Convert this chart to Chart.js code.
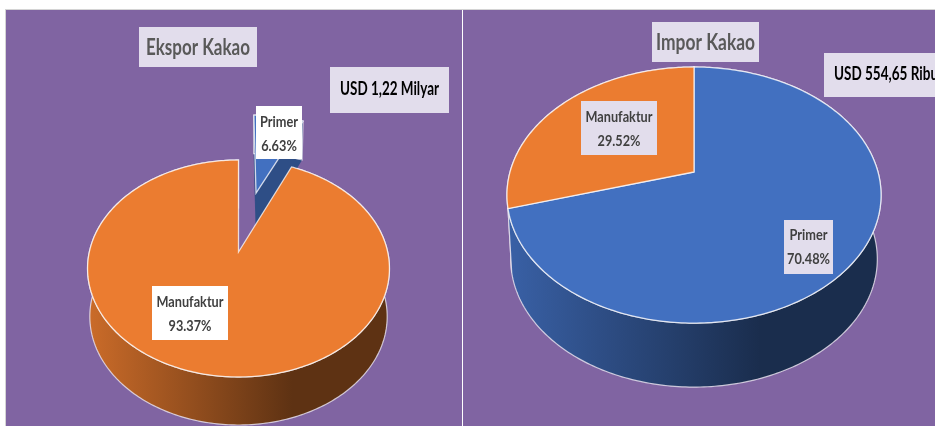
<!DOCTYPE html>
<html>
<head>
<meta charset="utf-8">
<script src="https://cdn.jsdelivr.net/npm/chart.js@4"></script>
<style>
  html, body { margin: 0; padding: 0; background: #fff; overflow: hidden; }
  canvas { position: absolute; background: #8064A2; }
  #ekspor { left: 6px; top: 10px; }
  #impor { left: 463px; top: 10px; }
  .line { position: absolute; background: #d4d4d4; }
</style>
</head>
<body>
<div class="line" style="left:5px;top:9px;width:930px;height:1px"></div>
<div class="line" style="left:5px;top:9px;width:1px;height:417px"></div>
<canvas id="ekspor" width="456" height="416"></canvas>
<canvas id="impor" width="472" height="416"></canvas>
<script>
// data (percent share)
const categories = ['Primer', 'Manufaktur'];
const eksporValues = [6.63, 93.37];
const imporValues = [70.48, 29.52];
const sliceColors = ['#4270C0', '#EB7C30'];

const eksporTitle = 'Ekspor Kakao';
const eksporTotal = 'USD 1,22 Milyar';
const imporTitle = 'Impor Kakao';
const imporTotal = 'USD 554,65 Ribu';

const FONT = 'Lato, "Open Sans", sans-serif';

function shade(hex, f) {
    const n = parseInt(hex.slice(1), 16);
    const r = Math.round((n >> 16 & 255) * f);
    const g = Math.round((n >> 8 & 255) * f);
    const b = Math.round((n & 255) * f);
    return `rgb(${r},${g},${b})`;
}

// tilted pie: the library works out the angles, this projects them in perspective
const tiltedPie = {
    id: 'tiltedPie',
    beforeDatasetsDraw(chart, args, opts) {
        const ctx = chart.ctx;
        const arcs = chart.getDatasetMeta(0).data;
        const point = (arc, i, theta, r) => {
            const ex = opts.explode[i];
            const mid = (arc.startAngle + arc.endAngle) / 2 + Math.PI / 2;
            const u = ex * Math.sin(mid) + r * Math.sin(theta);
            const v = -ex * Math.cos(mid) - r * Math.cos(theta);
            const w = 1 - opts.persp * v;
            const X = opts.rx * u / w, Y = opts.ry * v / w;
            const d = ex ? opts.depth / w : opts.depth;
            return {
                top: [opts.cx + X, opts.cy + Y],
                low: [opts.cx + X * opts.shrink, opts.cy + Y + d]
            };
        };
        const outline = (arc, i) => {
            const a0 = arc.startAngle + Math.PI / 2, a1 = arc.endAngle + Math.PI / 2;
            const n = Math.max(8, Math.ceil((a1 - a0) * 60));
            const pts = [];
            for (let k = 0; k <= n; k++) pts.push(point(arc, i, a0 + (a1 - a0) * k / n, 1));
            return { pts, c: point(arc, i, a0, 0) };
        };
        const trace = list => {
            ctx.beginPath();
            list.forEach((p, k) => k ? ctx.lineTo(p[0], p[1]) : ctx.moveTo(p[0], p[1]));
            ctx.closePath();
        };

        // walls first, back to front
        arcs.slice().reverse().forEach(arc => {
            const i = arcs.indexOf(arc);
            const { pts, c } = outline(arc, i);
            const base = arc.options.backgroundColor;
            let fill;
            if (opts.explode[i]) {
                fill = shade(base, 0.7);
            } else {
                fill = ctx.createLinearGradient(opts.cx - opts.rx, 0, opts.cx + opts.rx, 0);
                fill.addColorStop(0, shade(base, 0.86));
                fill.addColorStop(0.68, shade(base, 0.40));
                fill.addColorStop(1, shade(base, 0.40));
            }
            ctx.fillStyle = fill;
            if (opts.explode[i]) {
                // cut faces only show on a slice pulled out of the pie
                const first = pts[0], last = pts[pts.length - 1];
                trace([c.top, first.top, first.low, c.low]); ctx.fill();
                trace([c.top, last.top, last.low, c.low]); ctx.fill();
            }
            trace(pts.map(p => p.top).concat(pts.map(p => p.low).reverse()));
            ctx.fill();
            ctx.strokeStyle = 'rgba(235,230,240,0.8)';
            ctx.lineWidth = 1.2;
            ctx.stroke();
        });
        // then the faces
        arcs.forEach((arc, i) => {
            const { pts, c } = outline(arc, i);
            trace([c.top].concat(pts.map(p => p.top)));
            ctx.fillStyle = arc.options.backgroundColor;
            ctx.fill();
            ctx.strokeStyle = 'rgba(255,255,255,0.75)';
            ctx.lineWidth = 1.3;
            ctx.stroke();
        });
        return false;
    },
    afterDraw(chart, args, opts) {
        const ctx = chart.ctx;
        opts.boxes.forEach(b => {
            ctx.fillStyle = b.bg;
            ctx.fillRect(b.x, b.y, b.w, b.h);
            ctx.fillStyle = b.color;
            ctx.font = `bold ${b.size}px ${FONT}`;
            ctx.textBaseline = 'middle';
            ctx.textAlign = b.left ? 'left' : 'center';
            const tx = b.left ? b.x + b.left : b.x + b.w / 2;
            // the reference font is narrower, squeeze the lines to its width
            const sx = b.tw / ctx.measureText(b.lines[0]).width;
            b.lines.forEach((t, k) => {
                ctx.save();
                ctx.translate(tx, b.ty + k * 24);
                ctx.scale(sx, 1);
                ctx.fillText(t, 0, 0);
                ctx.restore();
            });
        });
    }
};

function slice(values, i) {
    return [categories[i], values[i].toFixed(2) + '%'];
}

function makePie(id, values, geom) {
    new Chart(document.getElementById(id).getContext('2d'), {
        type: 'pie',
        data: {
            labels: categories,
            datasets: [{ data: values, backgroundColor: sliceColors }]
        },
        options: {
            responsive: false,
            animation: false,
            plugins: { legend: { display: false }, tooltip: { enabled: false }, tiltedPie: geom }
        },
        plugins: [tiltedPie]
    });
}

const LAVENDER = '#E2DDEC';

makePie('ekspor', eksporValues, {
    cx: 232.5, cy: 242, rx: 149.2, ry: 106, persp: 0.152, depth: 48, shrink: 0.985,
    explode: [0.62, 0],
    boxes: [
        { x: 133, y: 17, w: 118, h: 40, ty: 38, tw: 104, bg: LAVENDER, color: '#595959', size: 22, lines: [eksporTitle] },
        { x: 324, y: 57, w: 119, h: 46, ty: 79, tw: 99, bg: LAVENDER, color: '#000', size: 18, lines: [eksporTotal] },
        { x: 250, y: 96, w: 46, h: 53, ty: 112, tw: 38, bg: '#fff', color: '#404040', size: 15, lines: slice(eksporValues, 0) },
        { x: 146, y: 276, w: 76, h: 54, ty: 292, tw: 67, bg: '#fff', color: '#404040', size: 15, lines: slice(eksporValues, 1) }
    ]
});

makePie('impor', imporValues, {
    cx: 231, cy: 162, rx: 184, ry: 123.9, persp: 0.18, depth: 64, shrink: 0.98,
    explode: [0, 0],
    boxes: [
        { x: 189, y: 12, w: 107, h: 40, ty: 33, tw: 99, bg: LAVENDER, color: '#595959', size: 22, lines: [imporTitle] },
        { x: 361, y: 43, w: 120, h: 44, ty: 64, left: 10, tw: 104, bg: LAVENDER, color: '#000', size: 18, lines: [imporTotal] },
        { x: 118, y: 91, w: 76, h: 54, ty: 107, tw: 67, bg: LAVENDER, color: '#404040', size: 15, lines: slice(imporValues, 1) },
        { x: 321, y: 210, w: 49, h: 54, ty: 225, tw: 38, bg: LAVENDER, color: '#404040', size: 15, lines: slice(imporValues, 0) }
    ]
});
</script>
</body>
</html>
